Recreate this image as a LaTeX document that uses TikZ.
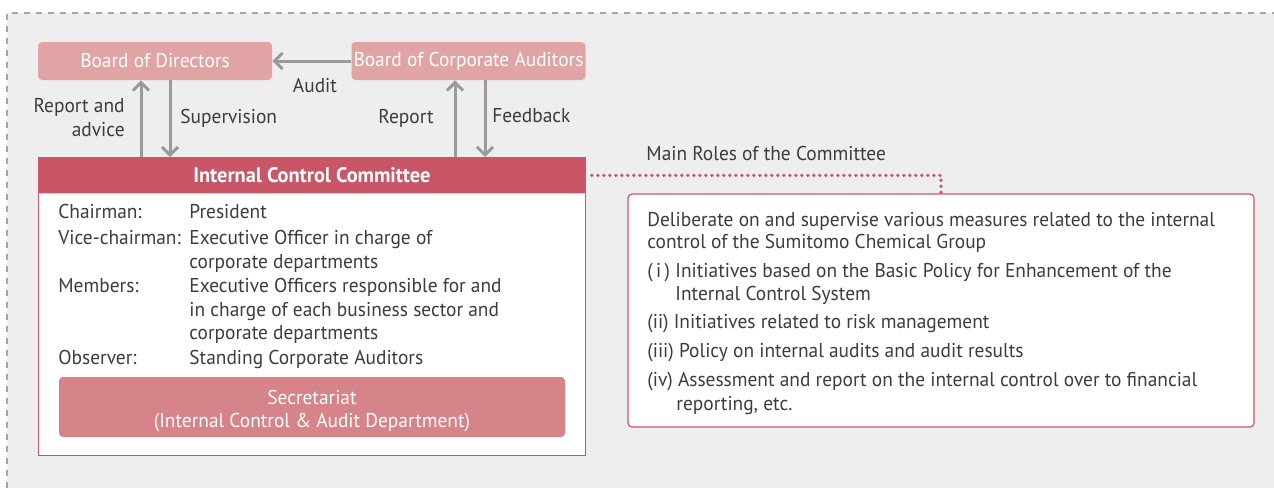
\documentclass[tikz,border=0pt]{standalone}
\usepackage{fontspec}
\setmainfont[FakeStretch=0.97]{PT Sans}
\usetikzlibrary{arrows.meta}
\definecolor{bgc}{HTML}{EEEEEE}
\definecolor{dashc}{HTML}{A6A6A6}
\definecolor{boxpink}{HTML}{E0A4A5}
\definecolor{hdrc}{HTML}{C85667}
\definecolor{secc}{HTML}{D6848A}
\definecolor{arrg}{HTML}{9A9A9A}
\definecolor{txt}{HTML}{3C3C3C}
\definecolor{dotc}{HTML}{D05566}
\tikzset{
  topbox/.style={fill=boxpink, text=white, rounded corners=2pt, inner sep=0pt,
    minimum width=117pt, minimum height=19pt, font=\fontsize{10}{12}\selectfont},
  arr/.style={draw=arrg, line width=1.5pt, -{Straight Barb[length=4pt,width=8pt,line width=1.5pt]}},
  lbl/.style={text=txt, inner sep=0pt, font=\fontsize{10}{12}\selectfont},
  ln/.style={lbl, anchor=base west},
}
\begin{document}
\begin{tikzpicture}[x=0.5pt,y=-0.5pt]
\useasboundingbox (0,0) rectangle (1274,488);
\fill[white] (0,0) rectangle (1274,488);
\fill[bgc] (7,13) rectangle (1274,488);
\draw[dashc, dashed, line width=0.6pt] (7,488) -- (7,13) -- (1274,13);

% top boxes
\node[topbox] (bod) at (155,61) {Board of Directors};
\node[topbox] (bca) at (468.5,61) {Board of Corporate Auditors};

% committee box
\node[draw=hdrc, line width=0.6pt, fill=white, anchor=north west, inner sep=0pt,
  minimum width=273.5pt, minimum height=149pt] (icc) at (38,157) {};
\node[fill=hdrc, text=white, anchor=north west, inner sep=0pt, rounded corners=1pt,
  minimum width=273.5pt, minimum height=18pt, font=\fontsize{10.5}{12}\selectfont\bfseries]
  (hdr) at (icc.north west) {Internal Control Committee};
\node[fill=secc, rounded corners=2pt, inner sep=0pt, minimum width=253pt,
  minimum height=30pt] (sec) at (312,407) {};
\node[text=white, inner sep=0pt, align=center, font=\fontsize{10}{11.8}\selectfont]
  (sect) at ([yshift=-2pt]sec.center) {Secretariat\\(Internal Control \& Audit Department)};

% arrows
\draw[arr] (bca.west) -- (bod.east);
\draw[arr] (icc.north -| 141,0) -- (bod.south -| 141,0);
\draw[arr] (bod.south -| 170,0) -- (icc.north -| 170,0);
\draw[arr] (icc.north -| 455,0) -- (bca.south -| 455,0);
\draw[arr] (bca.south -| 485,0) -- (icc.north -| 485,0);

% arrow labels
\node[lbl] (laudit) at (315,86) {Audit};
\node[lbl, align=right, anchor=east] (lrep) at (125,118) {Report and\\advice};
\node[lbl, anchor=west] (lsup) at (180,118) {Supervision};
\node[lbl, anchor=east] (lrep2) at (434,118) {Report};
\node[lbl, anchor=west] (lfb) at (492,116) {Feedback};

% members
\node[ln] (c1) at (58,218) {Chairman:};
\node[ln] (c1v) at (189,218) {President};
\node[ln] (c2) at (58,244) {Vice-chairman:};
\node[ln] (c2v) at (189,244) {Executive Officer in charge of};
\node[ln] (c2w) at (189,268) {corporate departments};
\node[ln] (c3) at (58,292) {Members:};
\node[ln] (c3v) at (189,292) {Executive Officers responsible for and};
\node[ln] (c3w) at (189,316) {in charge of each business sector and};
\node[ln] (c3x) at (189,339) {corporate departments};
\node[ln] (c4) at (58,364) {Observer:};
\node[ln] (c4v) at (189,364) {Standing Corporate Auditors};

% roles
\node[draw=dotc, line width=0.6pt, fill=white, rounded corners=2pt, inner sep=0pt,
  minimum width=313pt, minimum height=116.5pt] (roles) at (941,310.5) {};
\node[lbl, anchor=west] (mr) at (646,153) {Main Roles of the Committee};
\draw[dotc, line width=1.9pt, line cap=round, dash pattern=on 0pt off 3pt]
  ([xshift=3pt]hdr.east) -- (roles.north |- hdr.east) -- (roles.north);

\node[ln] (r1) at (647,226) {Deliberate on and supervise various measures related to the internal};
\node[ln] (r1b) at (647,248) {control of the Sumitomo Chemical Group};
\node[ln] (r2) at (647,277) {(\,i\,)};
\node[ln] (r2a) at (675,277) {Initiatives based on the Basic Policy for Enhancement of the};
\node[ln] (r2b) at (675,300) {Internal Control System};
\node[ln] (r3) at (647,328) {(ii) Initiatives related to risk management};
\node[ln] (r4) at (647,357) {(iii) Policy on internal audits and audit results};
\node[ln] (r5) at (647,386) {(iv) Assessment and report on the internal control over to financial};
\node[ln] (r5b) at (676,410) {reporting, etc.};
\end{tikzpicture}
\end{document}
